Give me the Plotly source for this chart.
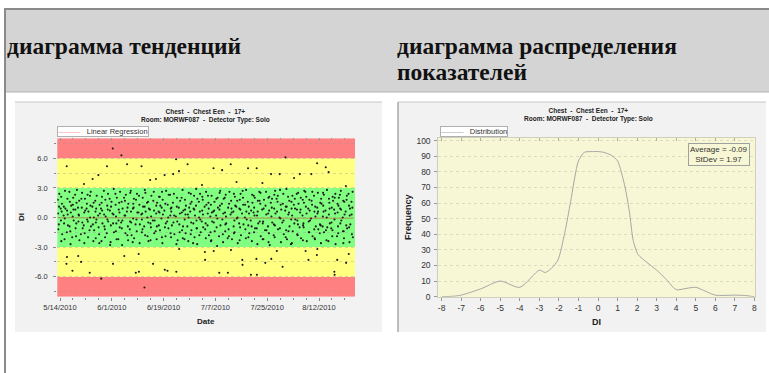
import pandas as pd
import plotly.graph_objects as go

W, H = 769, 373

# ---- texts ----
header_left = "диаграмма тенденций"
header_right = ["диаграмма распределения", "показателей"]
chart_title = ["Chest  -  Chest Een  -  17+", "Room: MORWF087  -  Detector Type: Solo"]

# ---- trend chart data (DI values per day, day 0 = 5/13/2010) ----
trend_start = "2010-05-13"
# morning exams
di_by_day = [
    [0.4, -1.2, 1.8], [-0.3, 2.1, 0.9, -2.4], [1.1, -0.6, 0.2], [5.2, -4.0, -4.7, 0.7, -1.5],
    [-0.9, 1.6, 2.6], [-5.4, 0.1, -2.0, 1.3], [0.8, -1.1, 2.3], [-3.9, -0.4, 1.0, 0.3],
    [-4.5, 1.9, -1.7], [3.4, 0.5, -0.8, -2.6], [1.4, -0.2, 0.9], [-5.6, 2.2, -1.3, 0.0],
    [3.9, -0.7, 1.1], [0.6, -2.1, 1.7, -0.5], [4.3, -1.0, 0.2], [-6.2, -2.4, 0.9, 1.5],
    [0.3, -0.9, 2.7], [5.2, 1.2, -1.6, -0.2], [0.7, -2.8, 1.9], [7.0, -4.7, 0.4, -0.6],
    [1.3, -1.4, 2.4, 0.1], [-0.3, 0.8, -2.2], [6.3, 1.6, -0.5, -1.1], [-3.9, 0.2, 2.0],
    [5.4, -1.8, 0.6, 1.0], [-0.4, 2.5, -1.2], [0.9, -0.1, -2.5, 1.4], [-5.6, 1.8, -0.7],
    [-3.7, -5.5, 0.5, 2.2], [5.2, -1.5, 0.3, -0.2], [-7.1, 1.1, -0.9, 2.8], [0.0, -1.9, 1.5],
    [3.8, -0.6, 0.8, -2.3], [-4.7, 1.7, -0.3], [3.9, 0.4, -1.4, 1.2], [-0.8, 2.1, 0.6],
    [1.0, -2.0, -0.1, 2.6], [4.3, -5.3, 0.7, -1.0], [-5.4, 1.3, -0.4], [0.2, -1.6, 2.3, 0.9],
    [4.4, -0.5, 1.5], [5.9, -5.5, 0.1, -2.7], [4.7, -3.2, 1.0, -0.7], [0.5, -1.3, 2.0],
    [-0.2, 1.8, -2.2, 0.8], [5.4, 0.3, -0.9], [1.4, -1.7, 0.6, 2.4], [-0.6, 0.9, -2.6],
    [2.9, -0.3, 1.2, -1.1], [0.0, -1.8, 1.6], [3.3, 0.7, -0.4, 2.1], [-3.5, -4.3, 1.1, -1.2],
    [0.4, 2.2, -0.8], [-1.5, 1.3, 0.1, -2.4], [5.0, -3.4, 0.6, -0.5], [1.9, -1.0, 0.2],
    [-5.6, 0.8, -1.9, 2.5], [4.8, -0.2, 1.4], [0.5, -1.4, 2.0, -0.7], [-5.6, 1.0, -2.1],
    [5.4, -3.3, 0.3, 1.7], [-0.9, 2.4, 0.6, -1.6], [3.6, -0.1, 1.1], [0.9, -2.3, -0.6, 1.8],
    [-4.3, -4.8, 0.4, 2.7], [1.3, -1.2, 0.0], [5.0, -0.8, 1.6, -2.0], [-5.8, 0.7, -0.3],
    [2.2, -1.5, 0.5, 1.0], [5.0, -5.8, -4.2, 0.2, -1.1], [1.7, -0.4, 2.6], [3.5, -2.2, 0.8, -0.6],
    [-4.6, 1.2, -1.3], [0.4, 2.0, -0.9, -2.5], [4.4, -4.2, 1.5, 0.1], [-0.7, 0.9, -1.8, 2.3],
    [-3.4, 0.6, 1.9], [4.4, -1.1, 0.0, 2.8], [-5.0, 1.4, -0.5], [6.1, -2.0, 0.7, 1.1],
    [0.3, -1.4, 2.1], [-0.2, 1.6, -2.7, 0.9], [4.0, -0.6, 1.3], [0.8, -1.7, 2.4, -0.3],
    [4.4, 0.5, -1.0], [1.8, -2.3, 0.2, -0.8], [-3.4, 1.1, 2.6], [-4.3, -0.4, 0.9, -1.5],
    [4.4, 1.7, -0.1], [-1.2, 0.6, 2.2, -2.1], [5.5, -3.2, -3.8, 0.4, 1.0], [-0.7, 1.5, -1.6],
    [0.1, 2.5, -0.9, 1.2], [5.1, -1.3, 0.7], [4.6, 0.3, -2.4, 1.9], [-0.5, 1.0, -1.1],
    [-5.5, -5.8, 0.8, 2.0, -0.2], [-4.3, 1.4, -1.9, 0.5], [0.9, -0.6, 2.3], [-1.4, 1.7, 0.0, -2.6],
    [3.2, -4.6, 0.6, -0.8], [-3.7, 1.2, 2.4, -1.0], [0.3, -1.7, 1.6],
]
# afternoon exams
di_by_day_pm = [
    [-0.7, 2.4, 1.1], [0.6, -1.7, 1.4], [-2.2, 2.7, -0.1, 0.9], [1.9, -0.8, 0.3],
    [-1.4, 0.5, -2.7, 1.2], [2.0, -0.3, 0.8], [-1.9, 1.5, -0.6, 2.8], [0.2, -2.3, 1.7],
    [1.0, -0.5, 2.5, -1.1], [-1.6, 0.7, 1.9], [2.3, -2.0, -0.4, 0.6], [1.2, -0.9, 2.6],
    [-2.4, 0.0, 1.5, -1.3], [0.9, 2.2, -0.2], [-1.7, 1.3, -2.6, 0.4], [2.1, -0.6, 0.7],
    [-1.2, 1.8, -2.0, 0.1], [0.8, -0.4, 2.4], [-2.5, 1.1, -0.8, 1.6], [0.3, -1.5, 2.9],
    [-0.6, 2.0, -2.2], [1.5, -1.0, 0.5, 2.6], [-2.8, 0.9, -0.3], [1.7, -1.6, 0.2, 2.3],
    [-0.9, 1.4, -2.3], [2.7, -0.5, 0.6, -1.8], [1.0, -2.1, 1.9], [-0.2, 2.4, -1.4, 0.5],
    [1.3, -0.7, -2.6], [0.4, 2.0, -1.2, 1.1], [-1.8, 0.6, 2.5], [1.6, -2.4, -0.5, 0.9],
    [-1.0, 2.2, 0.1], [2.6, -1.6, 0.7, -0.3], [-2.2, 1.5, -0.9], [0.5, -1.3, 2.1, 1.2],
    [-2.6, 0.3, 1.8], [1.4, -0.6, -1.9, 2.7], [0.0, 2.3, -1.1], [-2.0, 1.0, 0.6, -0.8],
    [2.4, -1.7, 0.2], [1.1, -0.4, 2.0, -2.3], [-1.5, 1.7, 0.4], [2.8, -0.9, -2.1, 0.7],
    [0.3, 1.2, -1.6], [-2.4, 2.5, 0.0, 1.0], [-0.5, 1.6, -1.3], [2.2, -2.0, 0.8, 0.2],
    [-1.1, 1.9, -2.7], [0.6, -0.2, 2.4, -1.5], [1.8, -1.0, 0.3], [-0.6, 2.6, -2.1, 1.3],
    [1.5, -1.8, 0.9], [-2.3, 0.5, 2.2, -0.4], [0.7, -1.4, 1.6], [-2.9, 2.0, -0.1, 1.0],
    [1.2, -0.8, 2.7], [-1.7, 0.4, -2.5, 1.9], [2.3, -0.6, 0.1], [-1.2, 1.4, -1.9, 2.6],
    [0.9, -2.2, 0.5], [-0.3, 2.1, -1.5, 1.2], [1.7, -2.6, 0.0], [-1.0, 2.4, 0.8, -1.8],
    [2.0, -0.7, 1.3], [-2.1, 0.6, 2.8, -0.2], [1.1, -1.6, 0.4], [-0.9, 2.3, -2.4, 1.5],
    [0.2, -1.1, 2.0], [-2.7, 1.7, 0.6, -0.6], [1.4, -1.9, 2.5], [-0.4, 0.9, -2.2, 1.8],
    [2.6, -1.3, 0.3], [-1.6, 2.1, 0.7, -2.8], [1.0, -0.5, 1.9], [-2.0, 2.7, -0.8, 0.4],
    [1.6, -1.2, 2.2], [-0.1, -2.5, 1.3, 0.8], [2.4, -1.7, -0.3], [-1.3, 1.1, 2.9, -2.2],
    [0.5, -0.9, 1.7], [-2.6, 2.2, 0.2, -1.4], [1.9, -0.2, 0.9], [-1.8, 2.5, -0.7, 1.4],
    [0.8, -2.1, 2.0], [-0.6, 1.5, -1.0, 2.7], [2.1, -2.4, 0.4], [-1.5, 0.7, 1.8, -0.3],
    [1.3, -1.9, 2.6], [-2.2, 0.1, 1.1, -0.9], [2.5, -1.2, 0.6], [-0.8, 1.9, -2.6, 1.4],
    [0.6, -1.5, 2.3], [-2.3, 2.8, 0.0, -1.0], [1.5, -0.6, 0.9], [-1.9, 2.1, -1.3, 1.7],
    [0.4, -2.7, 2.4], [-0.9, 1.2, -1.6, 2.0], [2.7, -0.3, 0.8], [-1.4, 1.6, -2.1, 0.3],
    [1.8, -1.1, 2.2], [-2.5, 0.9, 0.2, -0.7], [1.0, -2.0, 2.6],
]
am_hours = [8, 10, 6, 11, 9]
pm_hours = [14, 18, 16, 21]

reg_dates = ["2010-05-13 06:00", "2010-08-23 20:00"]
reg_di = [-0.03, -0.08]

band_edges = [-8.03, -6, -3, 3, 6, 8.03]
band_colors = ["#ff8080", "#ffff80", "#80ff80", "#ffff80", "#ff8080"]

date_range = ["2010-05-13 01:30", "2010-08-24 12:00"]
date_ticks = ["2010-05-14", "2010-06-01", "2010-06-19", "2010-07-07", "2010-07-25", "2010-08-12"]
date_labels = ["5/14/2010", "6/1/2010", "6/19/2010", "7/7/2010", "7/25/2010", "8/12/2010"]
di_ticks = [-6, -3, 0, 3, 6]
di_labels = ["-6.0", "-3.0", "0.0", "3.0", "6.0"]

# ---- distribution chart data ----
dist_x = [-8, -7.4, -7, -6, -5, -4, -3, -2.7, -2.4, -2.05, -1.7, -1.4, -1.0, -0.7, -0.3,
          0, 0.3, 0.7, 1.0, 1.35, 1.6, 1.8, 2.05, 2.5, 3, 3.5, 4, 4.5, 5, 5.5, 6, 7, 7.5, 8]
dist_freq = [0, 0.3, 1, 5, 10, 6, 17, 15.5, 18, 23.5, 41, 61, 87, 92.5, 93,
             93, 92.5, 90.5, 87, 72, 55, 36, 27, 22, 17, 11, 4.5, 5.3, 6, 3.5, 1, 1, 0.8, 0]
avg_di = -0.09
std_di = 1.97
freq_ticks = list(range(0, 101, 10))
di_int_ticks = list(range(-8, 9))
di_int_labels = [str(v) for v in di_int_ticks]


def px(x):
    return x / W


def py(y):
    return 1 - y / H


dot_x, dot_y = [], []
t0 = pd.Timestamp(trend_start)
for day_lists, hours in ((di_by_day, am_hours), (di_by_day_pm, pm_hours)):
    for d, vals in enumerate(day_lists):
        for j, v in enumerate(vals):
            dot_x.append(t0 + pd.Timedelta(days=d, hours=hours[j % len(hours)]))
            dot_y.append(v)

fig = go.Figure()

fig.add_trace(go.Scatter(
    x=dot_x, y=dot_y, mode="markers", xaxis="x", yaxis="y",
    marker=dict(size=2.1, color="#1a1a1a"), showlegend=False, hoverinfo="skip"))
fig.add_trace(go.Scatter(
    x=reg_dates, y=reg_di, mode="lines", xaxis="x", yaxis="y",
    line=dict(color="rgba(230,0,0,0.4)", width=1), showlegend=False))
fig.add_trace(go.Scatter(x=[], y=[], xaxis="x3", yaxis="y", showlegend=False))

fig.add_trace(go.Scatter(
    x=dist_x, y=dist_freq, mode="lines", xaxis="x2", yaxis="y2",
    line=dict(color="#a6a6a6", width=1, shape="spline", smoothing=0.7), showlegend=False))
fig.add_trace(go.Scatter(x=[], y=[], xaxis="x4", yaxis="y2", showlegend=False))

tick_font = dict(family="Liberation Sans, Arial", size=7.5, color="#333")
tick_font_r = dict(family="Liberation Sans, Arial", size=8.5, color="#333")
left_dom = [px(57.3), px(355)]
right_dom = [px(438.3), px(755)]
y_dom = [py(296.7), py(138.3)]
day_ms = 86400000

fig.update_layout(
    width=W, height=H, autosize=False,
    margin=dict(l=0, r=0, t=0, b=0, pad=0, autoexpand=False),
    paper_bgcolor="white", plot_bgcolor="rgba(0,0,0,0)",
    showlegend=False,
    xaxis=dict(domain=left_dom, anchor="y", type="date", range=date_range, automargin=False,
               tickvals=date_ticks, ticktext=date_labels, tickfont=tick_font,
               ticks="outside", ticklen=3, tickcolor="#888", showgrid=False, zeroline=False,
               minor=dict(dtick=4.5 * day_ms, tick0="2010-05-14", ticks="outside",
                          ticklen=2, tickcolor="#888")),
    xaxis3=dict(overlaying="x", anchor="y", side="top", type="date", range=date_range,
                automargin=False,
                tickvals=date_ticks, showticklabels=False, ticks="inside", ticklen=3,
                tickcolor="#999", showgrid=False, zeroline=False,
                minor=dict(dtick=4.5 * day_ms, tick0="2010-05-14", ticks="inside",
                           ticklen=2, tickcolor="#999")),
    yaxis=dict(domain=y_dom, anchor="x", range=[band_edges[0], band_edges[-1]],
               automargin=False,
               tickvals=di_ticks, ticktext=di_labels, tickfont=tick_font,
               ticks="outside", ticklen=3, tickcolor="#888", ticklabelstandoff=4,
               showgrid=False, zeroline=False,
               minor=dict(dtick=1.5, tick0=0, ticks="outside", ticklen=2, tickcolor="#888",
                          showgrid=True, gridcolor="rgba(150,150,150,0.35)", griddash="dot")),
    xaxis2=dict(domain=right_dom, anchor="y2", range=[-8.17, 8.03], automargin=False,
                tickvals=di_int_ticks, ticktext=di_int_labels, tickfont=tick_font_r,
                ticks="outside", ticklen=3,
                tickcolor="#999", showgrid=False, zeroline=False,
                showline=True, linecolor="#d0d0b8", mirror=True),
    xaxis4=dict(overlaying="x2", anchor="y2", side="top", range=[-8.17, 8.03],
                automargin=False,
                tickvals=di_int_ticks, showticklabels=False, ticks="inside", ticklen=3,
                tickcolor="#b0b0a0", showgrid=False, zeroline=False),
    yaxis2=dict(domain=y_dom, anchor="x2", range=[0, 101.5], automargin=False,
                tickvals=freq_ticks, tickfont=tick_font_r, ticks="outside", ticklen=3,
                tickcolor="#999", ticklabelstandoff=2, zeroline=False,
                showgrid=True, gridcolor="#dcdcc0", griddash="dot",
                showline=True, linecolor="#d0d0b8", mirror=True),
)

shapes = [
    # header band and page borders
    dict(type="rect", xref="paper", yref="paper", x0=px(5), x1=px(769), y0=py(92), y1=py(9),
         fillcolor="#d4d4d4", line=dict(width=0), layer="below"),
    dict(type="line", xref="paper", yref="paper", x0=px(4), x1=px(769), y0=py(9), y1=py(9),
         line=dict(color="#8a8a8a", width=2), layer="below"),
    dict(type="line", xref="paper", yref="paper", x0=px(5), x1=px(769), y0=py(92), y1=py(92),
         line=dict(color="#b4b4b4", width=1), layer="below"),
    dict(type="line", xref="paper", yref="paper", x0=px(5), x1=px(5), y0=py(8), y1=0,
         line=dict(color="#8a8a8a", width=2), layer="below"),
    # chart panels
    dict(type="rect", xref="paper", yref="paper", x0=px(15), x1=px(382), y0=py(332), y1=py(102),
         fillcolor="#f2f2f2", line=dict(width=0), layer="below"),
    dict(type="line", xref="paper", yref="paper", x0=px(15), x1=px(382), y0=py(102), y1=py(102),
         line=dict(color="#c8c8c8", width=1), layer="below"),
    dict(type="rect", xref="paper", yref="paper", x0=px(398), x1=px(766), y0=py(332), y1=py(102),
         fillcolor="#f2f2f2", line=dict(width=0), layer="below"),
    dict(type="line", xref="paper", yref="paper", x0=px(398), x1=px(766), y0=py(102), y1=py(102),
         line=dict(color="#c8c8c8", width=1), layer="below"),
    dict(type="line", xref="paper", yref="paper", x0=px(398), x1=px(398), y0=py(332), y1=py(102),
         line=dict(color="#a8a8a8", width=1.5), layer="below"),
    # distribution plot background
    dict(type="rect", xref="x2 domain", yref="y2 domain", x0=0, x1=1, y0=0, y1=1,
         fillcolor="#f7f7d5", line=dict(width=0), layer="below"),
]
for lo, hi, col in zip(band_edges[:-1], band_edges[1:], band_colors):
    shapes.append(dict(type="rect", xref="x domain", yref="y", x0=0, x1=1, y0=lo, y1=hi,
                       fillcolor=col, line=dict(width=0), layer="below"))
fig.update_layout(shapes=shapes)

serif = dict(family="Liberation Serif, Times New Roman", size=23.5, color="#111")
small = dict(family="Liberation Sans, Arial", size=6.5, color="#222")
lab = dict(family="Liberation Sans, Arial", size=7.5, color="#333")


def note(x, y, text, font, xanchor="center", yanchor="middle", **kw):
    fig.add_annotation(xref="paper", yref="paper", x=px(x), y=py(y), text=text, font=font,
                       xanchor=xanchor, yanchor=yanchor, showarrow=False, **kw)


note(5, 46, "<b>" + header_left + "</b>", serif, xanchor="left")
note(395, 46, "<b>" + header_right[0] + "</b>", serif, xanchor="left")
note(395, 72, "<b>" + header_right[1] + "</b>", serif, xanchor="left")

title_html = "<b>" + chart_title[0] + "<br>" + chart_title[1] + "</b>"
note(205, 115.5, title_html, small)
note(588, 114.5, title_html, small)

note(57.3, 126, "<span style='color:rgba(230,0,0,0.45)'>———</span>   Linear Regression", lab,
     xanchor="left", yanchor="top", bgcolor="white", bordercolor="#b0b0b0", borderwidth=1,
     borderpad=0)
note(440, 126, "<span style='color:#a6a6a6'>———</span>   Distribution", lab,
     xanchor="left", yanchor="top", bgcolor="white", bordercolor="#b0b0b0", borderwidth=1,
     borderpad=0)
note(719, 154.5, f"Average = {avg_di:.2f}<br>StDev = {std_di:.2f}",
     dict(family="Liberation Sans, Arial", size=8, color="#333"),
     bgcolor="#f7f7d5", bordercolor="#a0a0a0", borderwidth=1, borderpad=1)

bold8 = dict(family="Liberation Sans, Arial", size=8, color="#222")
note(206, 321, "<b>Date</b>", bold8)
note(21, 217, "<b>DI</b>", bold8, textangle=-90)
note(596, 322, "<b>DI</b>", dict(family="Liberation Sans, Arial", size=9, color="#222"))
note(408, 217, "<b>Frequency</b>", dict(family="Liberation Sans, Arial", size=9, color="#222"),
     textangle=-90)

fig.write_html("out.html", config={"displayModeBar": False},
               post_script="document.body.style.margin='0px';")
